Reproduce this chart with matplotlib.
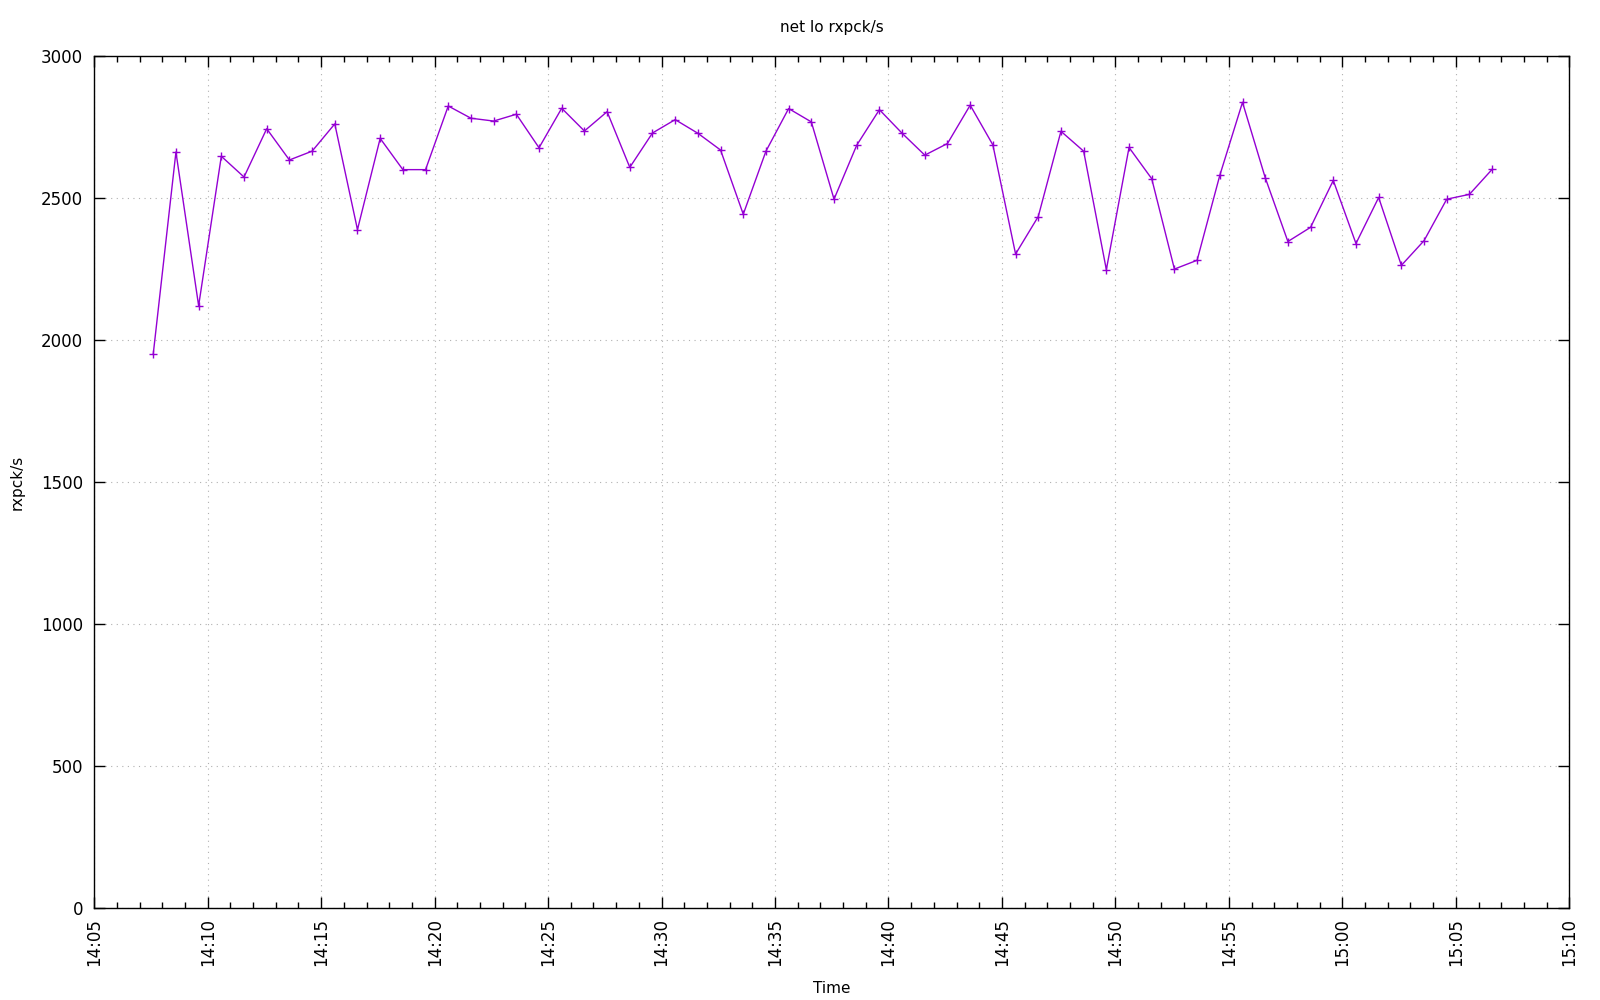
import matplotlib
matplotlib.use('Agg')
import matplotlib.pyplot as plt
import matplotlib.dates as mdates
import pandas as pd

plt.rcParams['font.family'] = ['DejaVu Sans']

# one sample per minute, starting 14:07:36
start_time = '2024-01-01 14:07:36'
rxpck = [1951, 2662, 2121, 2647, 2574, 2744, 2634, 2665, 2761, 2389,
         2710, 2600, 2600, 2824, 2781, 2771, 2795, 2677, 2816, 2736,
         2804, 2608, 2729, 2776, 2728, 2669, 2443, 2665, 2815, 2768,
         2496, 2686, 2811, 2728, 2651, 2692, 2827, 2687, 2303, 2435,
         2735, 2665, 2248, 2678, 2568, 2250, 2281, 2580, 2837, 2572,
         2347, 2397, 2562, 2340, 2502, 2263, 2350, 2496, 2513, 2601]
times = pd.date_range(start_time, periods=len(rxpck), freq='1min')

fig = plt.figure(figsize=(16, 10), dpi=100)
ax = fig.add_axes([0.0589, 0.0917, 0.9219, 0.8523])

ax.plot(times, rxpck, color='#9400D3', linewidth=1, marker='+',
        markersize=6, markeredgewidth=1)

ax.set_xlim(pd.Timestamp('2024-01-01 14:05'), pd.Timestamp('2024-01-01 15:10'))
ax.set_ylim(0, 3000)
ax.set_yticks(range(0, 3001, 500))

ax.xaxis.set_major_locator(mdates.MinuteLocator(byminute=range(0, 60, 5)))
ax.xaxis.set_minor_locator(mdates.MinuteLocator())
ax.xaxis.set_major_formatter(mdates.DateFormatter('%H:%M'))
plt.setp(ax.get_xticklabels(), rotation=90)

ax.tick_params(which='both', direction='in', top=True, right=True,
               labelsize=12, colors='black')
ax.tick_params(which='major', length=8, width=1)
ax.tick_params(which='minor', length=4, width=1)
ax.tick_params(axis='x', which='major', pad=7)
ax.tick_params(axis='y', which='major', pad=8)

ax.grid(True, which='major', linestyle=(0, (1, 4)), color='#b0b0b0', linewidth=0.8)
for s in ax.spines.values():
    s.set_linewidth(1)

ax.set_title('net lo rxpck/s', fontsize=11, pad=17)
ax.set_xlabel('Time', fontsize=11, labelpad=11)
ax.set_ylabel('rxpck/s', fontsize=11, labelpad=12)

fig.savefig('out.png', dpi=100)
